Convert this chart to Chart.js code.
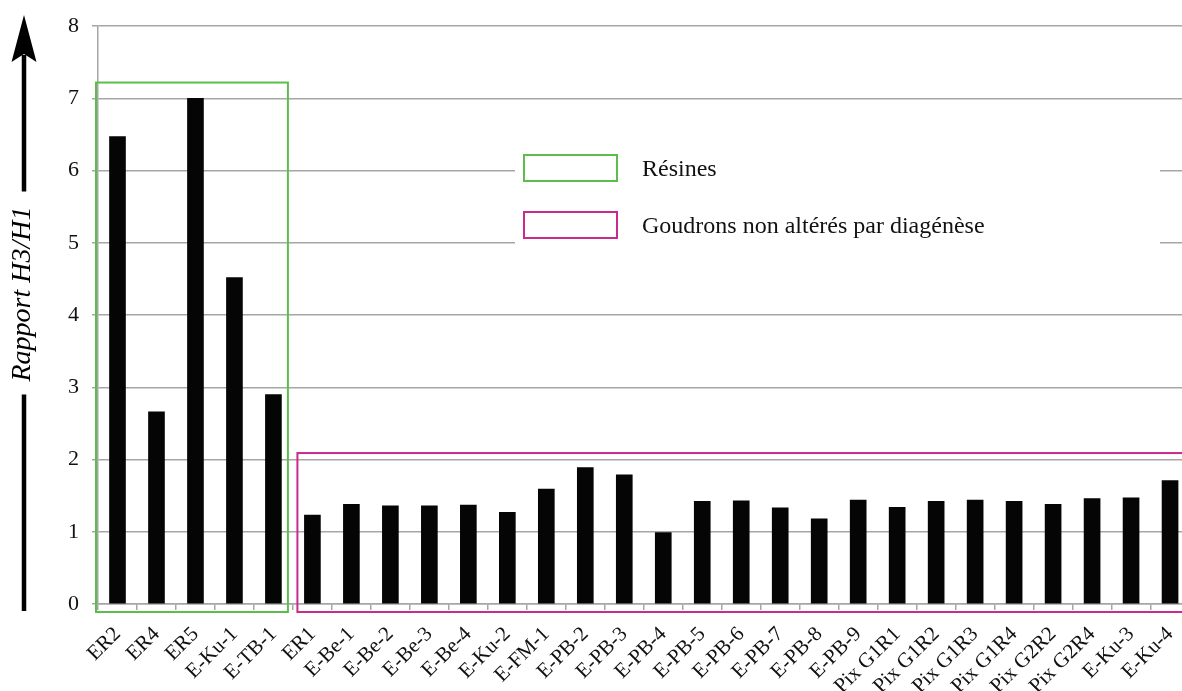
<!DOCTYPE html>
<html>
<head>
<meta charset="utf-8">
<script src="https://cdn.jsdelivr.net/npm/chart.js@4"></script>
<style>
  html, body { margin: 0; padding: 0; background: #fff; overflow: hidden; }
  #wrap { width: 1200px; height: 691px; position: relative; }
</style>
</head>
<body>
<div id="wrap"><canvas id="chartRatio"></canvas></div>
<script>
// Echantillons
const categories = [
  'ER2', 'ER4', 'ER5', 'E-Ku-1', 'E-TB-1',
  'ER1', 'E-Be-1', 'E-Be-2', 'E-Be-3', 'E-Be-4', 'E-Ku-2', 'E-FM-1',
  'E-PB-2', 'E-PB-3', 'E-PB-4', 'E-PB-5', 'E-PB-6', 'E-PB-7', 'E-PB-8', 'E-PB-9',
  'Pix G1R1', 'Pix G1R2', 'Pix G1R3', 'Pix G1R4', 'Pix G2R2', 'Pix G2R4',
  'E-Ku-3', 'E-Ku-4'
];

// Rapport H3/H1
const ratios = [
  6.47, 2.66, 7.0, 4.52, 2.90,
  1.23, 1.38, 1.36, 1.36, 1.37, 1.27, 1.59,
  1.89, 1.79, 0.99, 1.42, 1.43, 1.33, 1.18, 1.44,
  1.34, 1.42, 1.44, 1.42, 1.38, 1.46,
  1.47, 1.71
];

const yTitle = 'Rapport H3/H1';

// Groupes encadrés
const groupNames = ['Résines', 'Goudrons non altérés par diagénèse'];
const groupColors = ['#5dbd4c', '#c92a8c'];
const groupFirst = [0, 5];
const groupLast = [4, 27];
const groupTop = [7.22, 2.09];

const serif = '"Liberation Serif", "DejaVu Serif", serif';
const gridGrey = '#a6a6a6';

const axisTitlePlugin = {
  id: 'axisTitle',
  afterDraw(chart) {
    const ctx = chart.ctx;
    const x = 24;
    const cy = 294;
    ctx.save();
    ctx.font = 'italic 28px ' + serif;
    const w = ctx.measureText(yTitle).width;
    ctx.fillStyle = '#000';
    ctx.translate(x - 1, cy);
    ctx.rotate(-Math.PI / 2);
    ctx.textAlign = 'center';
    ctx.textBaseline = 'middle';
    ctx.fillText(yTitle, 0, 0);
    ctx.restore();

    ctx.save();
    ctx.strokeStyle = '#000';
    ctx.lineWidth = 4.5;
    ctx.beginPath();
    ctx.moveTo(x, 611);
    ctx.lineTo(x, cy + w / 2 + 13);
    ctx.moveTo(x, cy - w / 2 - 15);
    ctx.lineTo(x, 55);
    ctx.stroke();
    ctx.fillStyle = '#000';
    ctx.beginPath();
    ctx.moveTo(x, 15);
    ctx.lineTo(x + 12.5, 62);
    ctx.lineTo(x, 54);
    ctx.lineTo(x - 12.5, 62);
    ctx.closePath();
    ctx.fill();
    ctx.restore();
  }
};

const groupsPlugin = {
  id: 'groups',
  beforeDatasetsDraw(chart) {
    // fond blanc de la légende (coupe les lignes de grille)
    const ctx = chart.ctx;
    ctx.save();
    ctx.fillStyle = '#fff';
    ctx.fillRect(515, 138, 645, 124);
    ctx.restore();
  },
  afterDraw(chart) {
    const ctx = chart.ctx;
    const xs = chart.scales.x;
    const ys = chart.scales.y;
    const step = xs.getPixelForValue(1) - xs.getPixelForValue(0);
    const bottom = ys.getPixelForValue(0) + 8;
    ctx.save();
    ctx.lineWidth = 2;
    groupNames.forEach((name, i) => {
      let left = xs.getPixelForValue(groupFirst[i]) - step / 2;
      left += (i === 0) ? -2 : 4.5;
      let right = xs.getPixelForValue(groupLast[i]) + step / 2;
      right += (i === 0) ? -5 : 20;
      const top = ys.getPixelForValue(groupTop[i]);
      ctx.strokeStyle = groupColors[i];
      ctx.strokeRect(left, top, right - left, bottom - top);

      // légende
      const ly = 155 + i * 57;
      ctx.strokeRect(524, ly, 93, 26);
      ctx.fillStyle = '#111';
      ctx.font = '24px ' + serif;
      ctx.textBaseline = 'alphabetic';
      ctx.fillText(name, 642, ly + 21);
    });
    ctx.restore();
  }
};

const ctx = document.getElementById('chartRatio').getContext('2d');
new Chart(ctx, {
  type: 'bar',
  data: {
    labels: categories,
    datasets: [{
      data: ratios,
      backgroundColor: '#050505',
      borderWidth: 0,
      barThickness: 16
    }]
  },
  options: {
    responsive: true,
    maintainAspectRatio: false,
    animation: false,
    layout: { padding: { top: 26, right: 7, left: 0, bottom: 0 } },
    plugins: {
      legend: { display: false },
      tooltip: { enabled: false }
    },
    scales: {
      x: {
        afterFit: (scale) => { scale.height = 87; },
        grid: {
          drawOnChartArea: false,
          drawTicks: true,
          tickLength: 6,
          color: gridGrey,
          lineWidth: 1.5
        },
        border: { color: gridGrey, width: 1.5 },
        ticks: {
          minRotation: 45,
          maxRotation: 45,
          autoSkip: false,
          padding: 12,
          color: '#111',
          font: { family: serif, size: 21 }
        }
      },
      y: {
        min: 0,
        max: 8,
        afterFit: (scale) => { scale.width = 98; },
        grid: {
          color: gridGrey,
          lineWidth: 1.5,
          tickLength: 6
        },
        border: { color: gridGrey, width: 1.5 },
        ticks: {
          stepSize: 1,
          padding: 13,
          color: '#111',
          font: { family: serif, size: 22 }
        }
      }
    }
  },
  plugins: [axisTitlePlugin, groupsPlugin]
});
</script>
</body>
</html>
